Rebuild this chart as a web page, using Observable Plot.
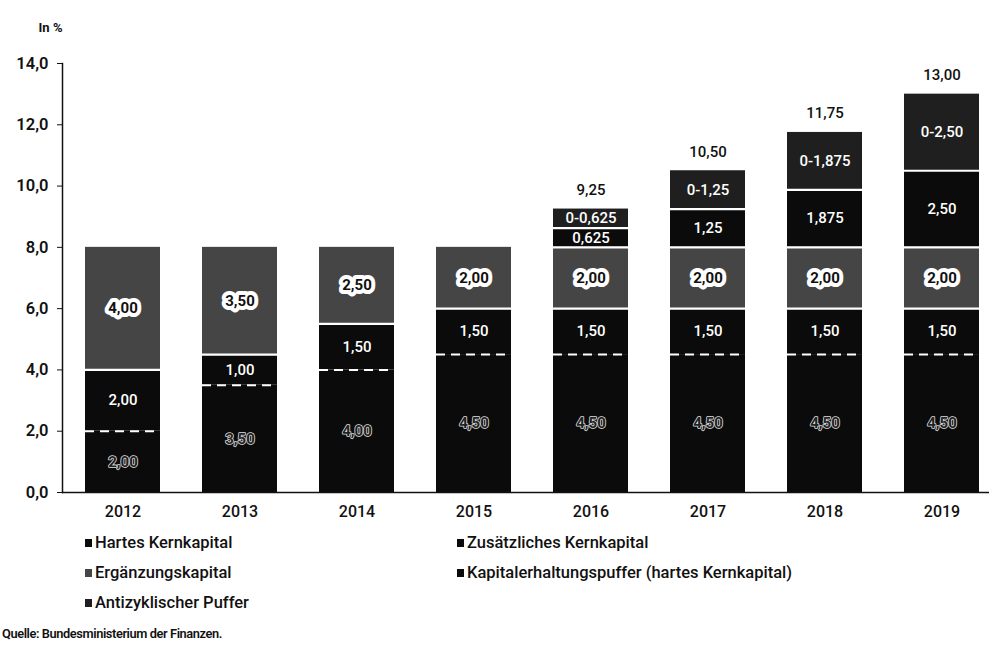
<!DOCTYPE html>
<html>
<head>
<meta charset="utf-8">
<script src="https://cdn.jsdelivr.net/npm/d3@7"></script>
<script src="https://cdn.jsdelivr.net/npm/@observablehq/plot@0.6"></script>
<style>
  html, body { margin: 0; padding: 0; background: #fff; }
  #wrap { position: relative; width: 989px; height: 649px; overflow: hidden; font-family: Roboto, "Noto Sans", sans-serif; color: #111; }
  #chart svg { display: block; }
  .legend { position: absolute; top: 528px; font-size: 16.5px; font-weight: 500; line-height: 30px; letter-spacing: 0px; }
  .legend div { white-space: nowrap; }
  .legend .sw { display: inline-block; width: 7px; height: 8px; margin-right: 3px; vertical-align: 1px; }
  #source { position: absolute; top: 626px; left: 2px; font-size: 12.8px; font-weight: 600; line-height: 16px; letter-spacing: -0.4px; }
</style>
</head>
<body>
<div id="wrap">
  <div id="chart"></div>
  <div class="legend" id="leg1" style="left:85px"></div>
  <div class="legend" id="leg2" style="left:457px"></div>
  <div id="source">Quelle: Bundesministerium der Finanzen.</div>
</div>
<script>
// ---- data ----
const years = ["2012", "2013", "2014", "2015", "2016", "2017", "2018", "2019"];
const seriesNames = [
  "Hartes Kernkapital",
  "Zusätzliches Kernkapital",
  "Ergänzungskapital",
  "Kapitalerhaltungspuffer (hartes Kernkapital)",
  "Antizyklischer Puffer"
];
const hartes       = [2.00, 3.50, 4.00, 4.50, 4.50, 4.50, 4.50, 4.50];
const zusaetzlich  = [2.00, 1.00, 1.50, 1.50, 1.50, 1.50, 1.50, 1.50];
const ergaenzung   = [4.00, 3.50, 2.50, 2.00, 2.00, 2.00, 2.00, 2.00];
const erhaltung    = [0, 0, 0, 0, 0.625, 1.25, 1.875, 2.50];
const antizyklisch = [0, 0, 0, 0, 0.625, 1.25, 1.875, 2.50];
const totals       = [null, null, null, null, 9.25, 10.50, 11.75, 13.00];
const yTicks = [0, 2, 4, 6, 8, 10, 12, 14];
const fills = ["#0b0b0b", "#0b0b0b", "#454545", "#0b0b0b", "#1f1f1f"];
const legendCol1 = [0, 2, 4];
const legendCol2 = [1, 3];

// ---- derived ----
const de = d3.formatLocale({decimal: ",", thousands: ".", grouping: [3], currency: ["", "€"]});
const fmtTick = de.format(".1f");
const fmtVal = v => de.format(Number.isInteger(Math.round(v * 1000) / 10) ? ".2f" : ".3f")(v);
const seriesValues = [hartes, zusaetzlich, ergaenzung, erhaltung, antizyklisch];

const segments = [];
years.forEach((year, i) => {
  let cum = 0;
  const present = seriesValues.map((arr, s) => s).filter(s => seriesValues[s][i] > 0);
  present.forEach((s, k) => {
    const v = seriesValues[s][i];
    segments.push({
      year, s, series: seriesNames[s], y1: cum, y2: cum + v,
      label: (s === 4 ? "0-" : "") + fmtVal(v),
      last: k === present.length - 1
    });
    cum += v;
  });
});
const totalRows = years.map((year, i) => ({year, total: totals[i]})).filter(d => d.total != null);
const mid = d => (d.y1 + d.y2) / 2;

const chart = Plot.plot({
  width: 989,
  height: 530,
  marginTop: 63,
  marginBottom: 38,
  marginLeft: 62,
  marginRight: 0,
  style: {fontFamily: "Roboto, 'Noto Sans', sans-serif", fontSize: "15px", color: "#111", background: "#fff"},
  x: {domain: years, range: [61, 1002], paddingInner: 0.362, paddingOuter: 0.181, label: null},
  y: {domain: [0, 14], label: null},
  color: {domain: seriesNames, range: fills},
  marks: [
    Plot.barY(segments, {x: "year", y1: "y1", y2: "y2", fill: "series"}),
    // solid white separators
    Plot.tickY(segments.filter(d => !d.last && d.s !== 0), {x: "year", y: "y2", stroke: "#fff", strokeWidth: 2.2}),
    // dashed separator above hard core capital
    Plot.tickY(segments.filter(d => d.s === 0), {x: "year", y: "y2", stroke: "#fff", strokeWidth: 2, strokeDasharray: "9,6"}),
    // labels: plain white
    Plot.text(segments.filter(d => d.s === 1 || d.s === 3 || d.s === 4), {
      x: "year", y: mid, text: "label", fill: "#fff", fontSize: 15, fontWeight: 500
    }),
    // labels: pill style
    Plot.text(segments.filter(d => d.s === 2), {
      x: "year", y: mid, text: "label", fill: "#111", stroke: "#fff", strokeWidth: 8,
      strokeLinejoin: "round", fontSize: 15, fontWeight: 700
    }),
    // labels: outlined
    Plot.text(segments.filter(d => d.s === 0), {
      x: "year", y: mid, text: "label", fill: "#222", stroke: "#ddd", strokeWidth: 1.6,
      fontSize: 15, fontWeight: 700
    }),
    // totals
    Plot.text(totalRows, {x: "year", y: "total", text: d => fmtVal(d.total), dy: -19, fill: "#111", fontSize: 15, fontWeight: 500}),
    Plot.axisY({ticks: yTicks, tickFormat: fmtTick, tickSize: 5, tickPadding: 9, fontSize: 16.5, fontWeight: 600, label: null}),
    Plot.axisX({tickSize: 0, tickPadding: 13, fontSize: 16, fontWeight: 500, label: null}),
    Plot.ruleY([0], {stroke: "#111", strokeWidth: 1.5}),
    Plot.frame({anchor: "left", stroke: "#111", strokeWidth: 1.5}),
    Plot.text(["In %"], {frameAnchor: "top-left", textAnchor: "end", dx: 0, dy: -41, fontSize: 13, fontWeight: 700})
  ]
});
document.getElementById("chart").appendChild(chart);

function fillLegend(id, idx) {
  const el = document.getElementById(id);
  idx.forEach(s => {
    const row = document.createElement("div");
    const sw = document.createElement("span");
    sw.className = "sw";
    sw.style.background = fills[s];
    row.appendChild(sw);
    row.appendChild(document.createTextNode(seriesNames[s]));
    el.appendChild(row);
  });
}
fillLegend("leg1", legendCol1);
fillLegend("leg2", legendCol2);
</script>
</body>
</html>
